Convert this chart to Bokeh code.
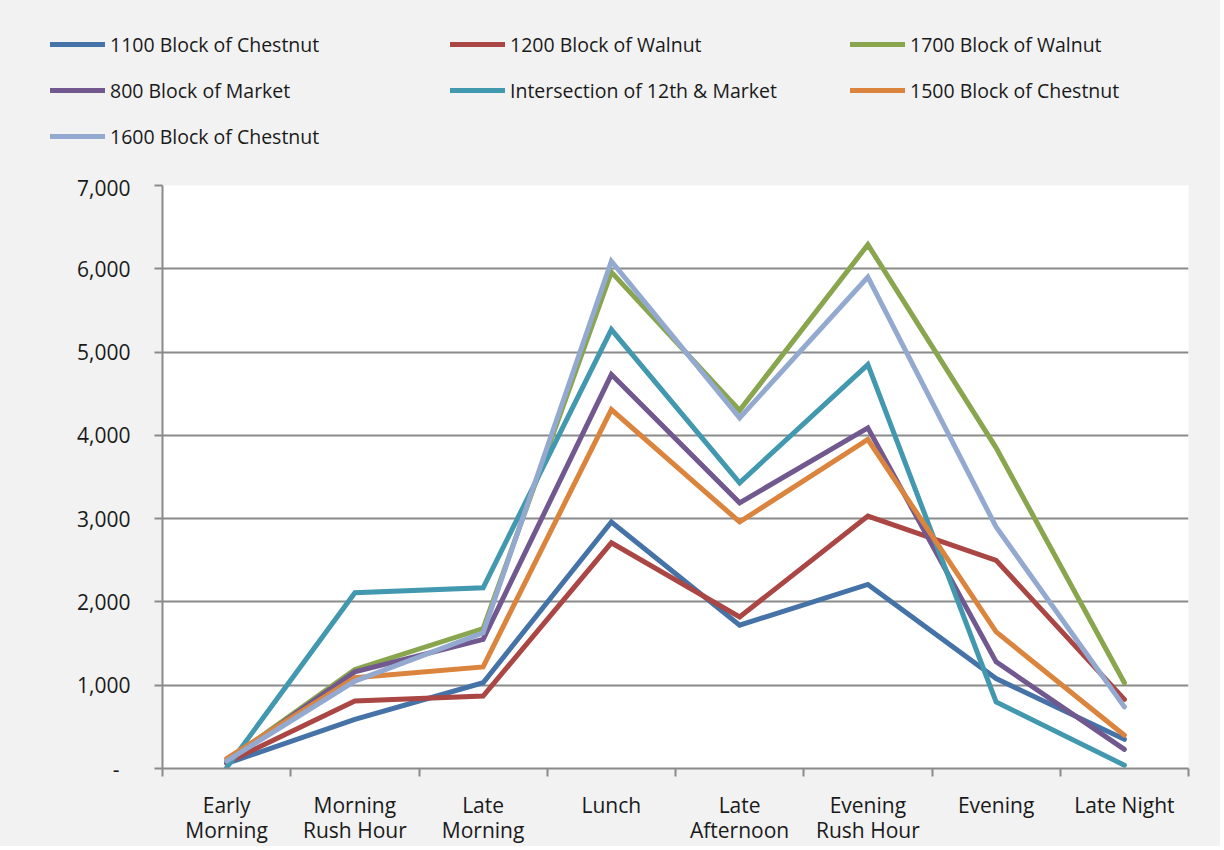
from bokeh.plotting import figure
from bokeh.layouts import column
from bokeh.models import Range1d, FixedTicker, Legend, LegendItem, NumeralTickFormatter
from bokeh.embed import file_html
from bokeh.resources import INLINE

periods = ["Early Morning", "Morning Rush Hour", "Late Morning", "Lunch",
           "Late Afternoon", "Evening Rush Hour", "Evening", "Late Night"]
period_labels = ["Early\nMorning", "Morning\nRush Hour", "Late\nMorning", "Lunch",
                 "Late\nAfternoon", "Evening\nRush Hour", "Evening", "Late Night"]

series_names = ["1100 Block of Chestnut", "1200 Block of Walnut", "1700 Block of Walnut",
                "800 Block of Market", "Intersection of 12th & Market",
                "1500 Block of Chestnut", "1600 Block of Chestnut"]

chestnut_1100 = [60, 590, 1030, 2960, 1720, 2210, 1080, 350]
walnut_1200 = [70, 810, 870, 2710, 1820, 3030, 2500, 830]
walnut_1700 = [90, 1190, 1680, 5960, 4300, 6290, 3850, 1030]
market_800 = [80, 1160, 1550, 4730, 3190, 4090, 1280, 230]
market_12th = [10, 2110, 2170, 5270, 3430, 4850, 800, 40]
chestnut_1500 = [120, 1090, 1220, 4310, 2960, 3950, 1640, 400]
chestnut_1600 = [90, 1050, 1630, 6090, 4210, 5900, 2900, 740]

series_values = [chestnut_1100, walnut_1200, walnut_1700, market_800,
                 market_12th, chestnut_1500, chestnut_1600]
colors = ["#4572A7", "#AA4643", "#89A54E", "#71588F", "#4198AF", "#DB843D", "#93A9CF"]

y_ticks = [0, 1000, 2000, 3000, 4000, 5000, 6000, 7000]

FONT = "Open Sans"
TEXT = "#1a1a1a"
GRID = "#8a8a8a"
BG = "#f2f2f2"
W = 1220

n = len(periods)
xs = [i + 0.5 for i in range(n)]

# ---- main chart ----
p = figure(width=W, height=673,
           x_range=Range1d(0, n), y_range=Range1d(0, 7000),
           output_backend="svg", toolbar_location=None,
           min_border_left=162, min_border_right=W - 1188,
           min_border_top=12, min_border_bottom=72,
           background_fill_color="white", border_fill_color=BG,
           outline_line_color=None, frame_align=False)

for name, vals, col in zip(series_names, series_values, colors):
    p.line(xs, vals, line_color=col, line_width=5,
           line_join="miter", line_cap="round")

p.xaxis.ticker = FixedTicker(ticks=xs, minor_ticks=list(range(n + 1)))
p.xaxis.major_label_overrides = {x: lab for x, lab in zip(xs, period_labels)}
p.xaxis.major_tick_out = 0
p.xaxis.major_tick_in = 0
p.xaxis.minor_tick_out = 8
p.xaxis.minor_tick_in = 0
p.xaxis.minor_tick_line_color = GRID
p.xaxis.minor_tick_line_width = 2
p.xaxis.axis_line_color = GRID
p.xaxis.axis_line_width = 2
p.xaxis.major_label_text_font = FONT
p.xaxis.major_label_text_font_size = "21px"
p.xaxis.major_label_text_line_height = 0.9
p.xaxis.major_label_text_color = TEXT
p.xaxis.major_label_standoff = 14

p.yaxis.ticker = FixedTicker(ticks=y_ticks)
p.yaxis.formatter = NumeralTickFormatter(format="0,0")
p.yaxis.major_label_overrides = {0: "-\u00a0\u00a0"}
p.yaxis.major_tick_out = 8
p.yaxis.major_tick_in = 0
p.yaxis.minor_tick_line_color = None
p.yaxis.major_tick_line_color = GRID
p.yaxis.major_tick_line_width = 2
p.yaxis.axis_line_color = GRID
p.yaxis.axis_line_width = 2
p.yaxis.major_label_text_font = FONT
p.yaxis.major_label_text_font_size = "21px"
p.yaxis.major_label_text_color = TEXT
p.yaxis.major_label_standoff = 24

p.xgrid.grid_line_color = None
p.ygrid.ticker = FixedTicker(ticks=y_ticks)
p.ygrid.grid_line_color = GRID
p.ygrid.grid_line_width = 2

# ---- legend band ----
leg_h = 173
pl = figure(width=W, height=leg_h, x_range=Range1d(0, 1), y_range=Range1d(0, 1),
            output_backend="svg", toolbar_location=None,
            x_axis_location=None, y_axis_location=None,
            min_border=0, min_border_left=0, min_border_right=0,
            min_border_top=0, min_border_bottom=0,
            background_fill_color=BG, border_fill_color=BG,
            outline_line_color=None, frame_align=False)
pl.xgrid.grid_line_color = None
pl.ygrid.grid_line_color = None

nan = float("nan")
items = []
for name, col in zip(series_names, colors):
    # legend key only: a single undrawn (NaN) point so the key line is rendered
    r = pl.line(x=[nan], y=[nan], line_color=col, line_width=5, line_cap="round")
    items.append(LegendItem(label=name, renderers=[r]))

legend = Legend(items=items, location=(50, leg_h - 28 - 124), ncols=3,
                orientation="horizontal",
                glyph_width=55, glyph_height=32, label_standoff=5,
                label_width=326, label_height=32, spacing=14,
                padding=0, margin=0,
                label_text_font=FONT, label_text_font_size="19.5px",
                label_text_color=TEXT,
                background_fill_alpha=0, border_line_alpha=0)
pl.add_layout(legend, "center")

layout = column(pl, p, spacing=0, styles={"background-color": BG})
open("out.html", "w").write(file_html(layout, INLINE))
